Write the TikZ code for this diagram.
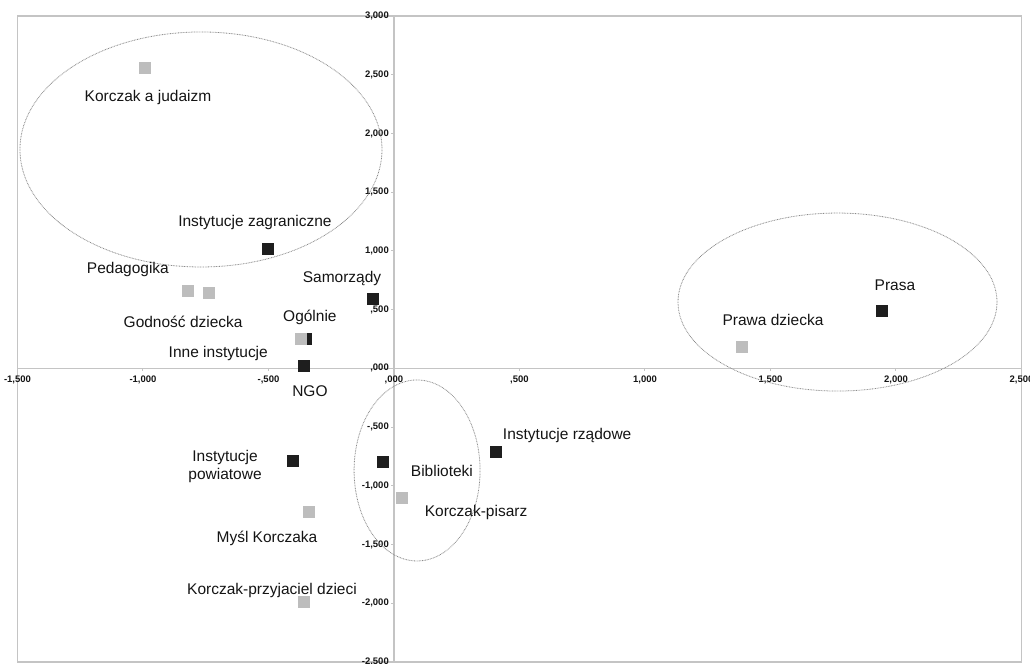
\documentclass[tikz,border=0pt]{standalone}
\usepackage{fontspec}
\setmainfont{Liberation Sans}
\definecolor{axisgray}{HTML}{C4C4C4}
\definecolor{darksq}{HTML}{1E1E1E}
\definecolor{lightsq}{HTML}{BDBDBD}
\definecolor{ellgray}{HTML}{8A8A8A}
\definecolor{labeltext}{HTML}{141414}
\begin{document}
\begin{tikzpicture}[x=251pt,y=117.45pt,
  axisline/.style={draw=axisgray,line width=1.3pt},
  tickline/.style={draw=axisgray,line width=1pt},
  dk/.style={rectangle,fill=darksq,minimum size=12pt,inner sep=0pt},
  lt/.style={rectangle,fill=lightsq,minimum size=12pt,inner sep=0pt},
  lbl/.style={font=\fontsize{15.5}{18.5}\selectfont,text=labeltext,inner sep=0pt,align=center},
  tick/.style={font=\fontsize{9.5}{10}\selectfont\bfseries,text=labeltext,inner sep=0pt},
  grp/.style={draw=ellgray,line width=0.8pt,dash pattern=on 0.8pt off 0.8pt}]
\useasboundingbox (-1.5697,-2.5083) rectangle (2.5339,3.1367);
% frame and axes
\draw[axisline] (-1.5,-2.5) rectangle (2.5,3);
\draw[axisline] (-1.5,0) -- (2.5,0);
\draw[axisline] (0,-2.5) -- (0,3);
% x ticks
\foreach \v/\t in {-1.5/-1{,}500,-1/-1{,}000,-0.5/-{,}500,0/{,}000,0.5/{,}500,1/1{,}000,1.5/1{,}500,2/2{,}000,2.5/2{,}500}{
  \draw[tickline] (\v,0) -- ++(0,-3pt);
  \node[tick,anchor=center] at ([yshift=-12pt]\v,0) {\t};
}
% y ticks
\foreach \v/\t in {3/3{,}000,2.5/2{,}500,2/2{,}000,1.5/1{,}500,1/1{,}000,0.5/{,}500,0/{,}000,-0.5/-{,}500,-1/-1{,}000,-1.5/-1{,}500,-2/-2{,}000,-2.5/-2{,}500}{
  \draw[tickline] (0,\v) -- ++(-3pt,0);
  \node[tick,anchor=east] at ([xshift=-5pt]0,\v) {\t};
}
% groups
\draw[grp] (-0.769,1.864) ellipse [x radius=181pt,y radius=117.5pt];
\draw[grp] (1.767,0.565) ellipse [x radius=159.5pt,y radius=89pt];
\draw[grp] (0.092,-0.869) ellipse [x radius=63pt,y radius=90.5pt];
% points
\node[lt] (judaizm) at (-0.992,2.560) {};
\node[dk] (zagr) at (-0.502,1.017) {};
\node[lt] (pedag) at (-0.82,0.66) {};
\node[lt] (godn) at (-0.737,0.642) {};
\node[dk] (samorz) at (-0.084,0.591) {};
\node[dk] (ogolnieB) at (-0.350,0.250) {};
\node[lt] (ogolnie) at (-0.372,0.252) {};
\node[dk] (inne) at (-0.359,0.020) {};
\node[dk] (powiat) at (-0.402,-0.788) {};
\node[lt] (mysl) at (-0.339,-1.222) {};
\node[lt] (przyj) at (-0.359,-1.989) {};
\node[dk] (bibl) at (-0.044,-0.797) {};
\node[lt] (pisarz) at (0.032,-1.103) {};
\node[dk] (rzad) at (0.406,-0.712) {};
\node[lt] (prawa) at (1.386,0.182) {};
\node[dk] (prasa) at (1.944,0.490) {};
% labels
\node[lbl] (judaizmL) at (-0.98,2.31) {Korczak a judaizm};
\node[lbl] (zagrL) at (-0.554,1.246) {Instytucje zagraniczne};
\node[lbl] (pedagL) at (-1.06,0.838) {Pedagogika};
\node[lbl] (godnL) at (-0.84,0.395) {Godność dziecka};
\node[lbl] (samorzL) at (-0.207,0.762) {Samorządy};
\node[lbl] (ogolnieL) at (-0.335,0.438) {Ogólnie};
\node[lbl] (inneL) at (-0.70,0.123) {Inne instytucje};
\node[lbl] (ngoL) at (-0.335,-0.19) {NGO};
\node[lbl] (powiatL) at (-0.673,-0.835) {Instytucje\\powiatowe};
\node[lbl] (myslL) at (-0.506,-1.444) {Myśl Korczaka};
\node[lbl] (przyjL) at (-0.486,-1.895) {Korczak-przyjaciel dzieci};
\node[lbl] (biblL) at (0.191,-0.874) {Biblioteki};
\node[lbl] (pisarzL) at (0.327,-1.231) {Korczak-pisarz};
\node[lbl] (rzadL) at (0.69,-0.575) {Instytucje rządowe};
\node[lbl] (prawaL) at (1.51,0.412) {Prawa dziecka};
\node[lbl] (prasaL) at (1.996,0.71) {Prasa};
\end{tikzpicture}
\end{document}
